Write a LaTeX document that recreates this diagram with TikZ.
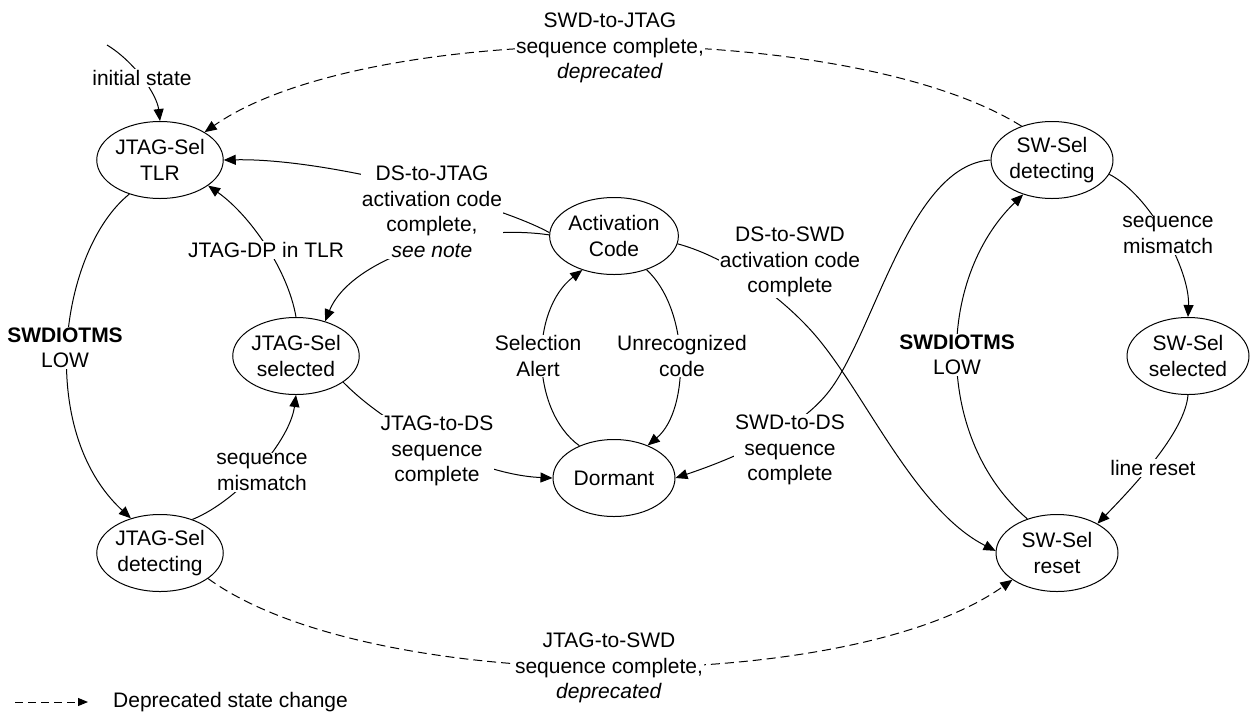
\documentclass[tikz,border=0pt]{standalone}
\usepackage{fontspec}
\setmainfont{Liberation Sans}
\usetikzlibrary{shapes.geometric,arrows.meta}
\begin{document}
\begin{tikzpicture}[x=1pt,y=-1pt,
  every node/.style={font=\fontsize{21}{25.5}\selectfont},
  state/.style={ellipse,draw,line width=1pt,minimum width=122pt,minimum height=77pt,inner sep=0pt,align=center},
  lbl/.style={fill=white,inner sep=1pt,align=center},
  conn/.style={line width=1pt,-{Triangle[length=12pt,width=10pt]}},
  depr/.style={conn,dash pattern=on 9pt off 5pt}]
\fill[white] (0,0) rectangle (1250,713);
\useasboundingbox (0,0) rectangle (1250,713);

% states
\node[state] (tlr)   at (160,160)  {JTAG-Sel\\TLR};
\node[state] (jsel)  at (296,356)  {JTAG-Sel\\selected};
\node[state] (jdet)  at (160,553)  {JTAG-Sel\\detecting};
\node[state] (act)   at (614,236)  {Activation\\Code};
\node[state] (dorm)  at (614,478)  {Dormant};
\node[state] (swdet) at (1052,160) {SW-Sel\\detecting};
\node[state] (swsel) at (1188,356) {SW-Sel\\selected};
\node[state] (swrst) at (1057,553) {SW-Sel\\reset};

\coordinate (init) at (107,45);

% connectors
\draw[conn] (init) .. controls (135,62) and (157,95) .. (tlr.north);
\draw[depr] (swdet.132) .. controls (850,19) and (367,19) .. (tlr.32);
\draw[conn] (act.177) .. controls (500,205) and (330,158) .. (tlr.east);
\draw[conn] (act.179) .. controls (460,222) and (350,260) .. (jsel.50);
\draw[conn] (jsel.north) .. controls (288,270) and (250,215) .. (tlr.-28);
\draw[conn] (tlr.228) .. controls (60,250) and (35,430) .. (jdet.130);
\draw[conn] (jdet.46) .. controls (240,500) and (290,440) .. (jsel.south);
\draw[conn] (jsel.-29) .. controls (390,430) and (480,475) .. (dorm.west);
\draw[conn] (dorm.137) .. controls (530,410) and (530,310) .. (act.227);
\draw[conn] (act.-46) .. controls (690,310) and (690,410) .. (dorm.44);
\draw[conn] (act.-7) .. controls (730,258) and (785,300) .. (815,335)
            .. controls (865,393) and (915,510) .. (swrst.178);
\draw[conn] (swdet.west) .. controls (910,165) and (875,330) .. (830,390)
            .. controls (800,430) and (735,458) .. (dorm.east);
\draw[conn] (swrst.131) .. controls (935,440) and (935,280) .. (swdet.230);
\draw[conn] (swdet.-14) .. controls (1150,195) and (1190,270) .. (swsel.north);
\draw[conn] (swsel.south) .. controls (1185,430) and (1140,480) .. (swrst.36);
\draw[depr] (jdet.-28) .. controls (370,696) and (849,696) .. (swrst.211);

% labels
\node[lbl] (linit) at (142,78) {initial state};
\node[lbl] (lswj) at (610,48) {SWD-to-JTAG\\sequence complete,\\\textit{deprecated}};
\node[lbl] (ldsj) at (432,212) {DS-to-JTAG\\activation code\\complete,\\\textit{see note}};
\node[lbl] (ldp) at (266,250) {JTAG-DP in TLR};
\node[lbl] (llowl) at (65,348) {\textbf{SWDIOTMS}\\LOW};
\node[lbl] (lmisl) at (262,472) {sequence\\mismatch};
\node[lbl] (ljds) at (437,451) {JTAG-to-DS\\sequence\\complete};
\node[lbl] (lsel) at (538,356) {Selection\\Alert};
\node[lbl] (lunr) at (682,356) {Unrecognized\\code};
\node[lbl] (ldss) at (790,262) {DS-to-SWD\\activation code\\complete};
\node[lbl] (lswds) at (790,450) {SWD-to-DS\\sequence\\complete};
\node[lbl] (llowr) at (957,355) {\textbf{SWDIOTMS}\\LOW};
\node[lbl] (lmisr) at (1168,235) {sequence\\mismatch};
\node[lbl] (lrst) at (1153,468) {line reset};
\node[lbl] (ljsw) at (609,668) {JTAG-to-SWD\\sequence complete,\\\textit{deprecated}};

% legend
\coordinate (lga) at (15,702);
\coordinate (lgb) at (88,702);
\draw[line width=1pt,dash pattern=on 8pt off 5pt,-{Triangle[length=10pt,width=8pt]}] (lga) -- (lgb);
\node[anchor=west,inner sep=0pt] (lgt) at (113,702) {Deprecated state change};
\end{tikzpicture}
\end{document}
